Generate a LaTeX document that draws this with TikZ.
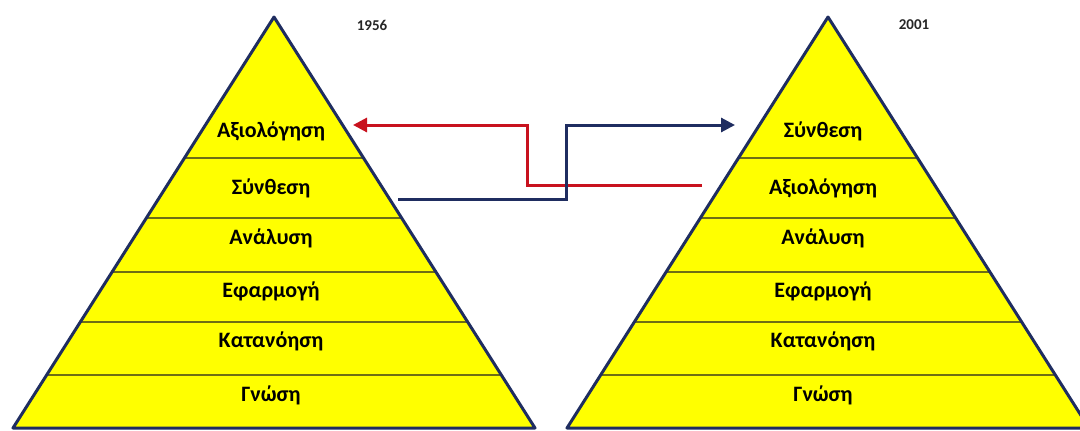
\documentclass[tikz,border=0pt]{standalone}
\usepackage{fontspec}
\setmainfont{Carlito}
\usetikzlibrary{positioning,calc,arrows.meta}
\definecolor{pyryellow}{RGB}{255,255,0}
\definecolor{pyrblue}{RGB}{31,45,96}
\definecolor{arrred}{RGB}{200,18,30}
\definecolor{bandcol}{RGB}{110,110,20}
\newcommand{\myfont}{\fontsize{11}{13}\selectfont\bfseries}
\newcommand{\yearfont}{\fontsize{7.5}{8}\selectfont\bfseries}
\newcommand{\bandA}{0.343}
\newcommand{\bandB}{0.489}
\newcommand{\bandC}{0.620}
\newcommand{\bandD}{0.742}
\newcommand{\bandE}{0.871}

\begin{document}
\begin{tikzpicture}[x=0.5pt, y=0.5pt,
  pyramid/.style={draw=pyrblue, line width=1.5pt, line join=round},
  band/.style={draw=bandcol, line width=0.8pt},
  level/.style={anchor=base, inner sep=0pt, font=\myfont},
  year/.style={inner sep=0pt, font=\yearfont, text=black!85},
  tiparrow/.style={line width=1.5pt, -{Triangle[length=7pt,width=7pt]}}]

  \useasboundingbox (0,0) rectangle (1080,430);
  \clip (0,0) rectangle (1080,430);

  %%%%%%%%%%%%%%%%%%%%%%%%%%%%%%%%%%%%%%%%%%%%%%%%%%%%%%%%%%%%%%%%%%%%%%%%%%%%%%%%
  %%%%%%%%%%% pyramid of 1956
  %%%%%%%%%%%%%%%%%%%%%%%%%%%%%%%%%%%%%%%%%%%%%%%%%%%%%%%%%%%%%%%%%%%%%%%%%%%%%%%%

  \coordinate (topL) at (274,413);
  \coordinate (baseLa) at (13,2);
  \coordinate (baseLb) at (535,2);

  % yellow body
  \fill [pyryellow] (topL) -- (baseLa) -- (baseLb) -- cycle;

  % band lines
  \foreach \f in {\bandA,\bandB,\bandC,\bandD,\bandE}
    \draw [band] ($(topL)!\f!(baseLa)$) -- ($(topL)!\f!(baseLb)$);

  % outline
  \draw [pyramid] (topL) -- (baseLa) -- (baseLb) -- cycle;

  % levels
  \node [level] (evalL) at (271,293) {Αξιολόγηση};
  \node [level] (synL) at (271,236) {Σύνθεση};
  \node [level] (anaL) at (271,186) {Ανάλυση};
  \node [level] (appL) at (271,133) {Εφαρμογή};
  \node [level] (compL) at (271,83) {Κατανόηση};
  \node [level] (knowL) at (271,29) {Γνώση};

  % year
  \node [year] (yearL) at (372,405) {1956};

  %%%%%%%%%%%%%%%%%%%%%%%%%%%%%%%%%%%%%%%%%%%%%%%%%%%%%%%%%%%%%%%%%%%%%%%%%%%%%%%%
  %%%%%%%%%%% pyramid of 2001
  %%%%%%%%%%%%%%%%%%%%%%%%%%%%%%%%%%%%%%%%%%%%%%%%%%%%%%%%%%%%%%%%%%%%%%%%%%%%%%%%

  \coordinate (topR) at (828,413);
  \coordinate (baseRa) at (567,2);
  \coordinate (baseRb) at (1089,2);

  % yellow body
  \fill [pyryellow] (topR) -- (baseRa) -- (baseRb) -- cycle;

  % band lines
  \foreach \f in {\bandA,\bandB,\bandC,\bandD,\bandE}
    \draw [band] ($(topR)!\f!(baseRa)$) -- ($(topR)!\f!(baseRb)$);

  % outline
  \draw [pyramid] (topR) -- (baseRa) -- (baseRb) -- cycle;

  % levels
  \node [level] (synR) at (823,293) {Σύνθεση};
  \node [level] (evalR) at (823,236) {Αξιολόγηση};
  \node [level] (anaR) at (823,186) {Ανάλυση};
  \node [level] (appR) at (823,133) {Εφαρμογή};
  \node [level] (compR) at (823,83) {Κατανόηση};
  \node [level] (knowR) at (823,29) {Γνώση};

  % year
  \node [year] (yearR) at (914,405) {2001};

  %%%%%%%%%%%%%%%%%%%%%%%%%%%%%%%%%%%%%%%%%%%%%%%%%%%%%%%%%%%%%%%%%%%%%%%%%%%%%%%%
  %%%%%%%%%%% swapped levels
  %%%%%%%%%%%%%%%%%%%%%%%%%%%%%%%%%%%%%%%%%%%%%%%%%%%%%%%%%%%%%%%%%%%%%%%%%%%%%%%%

  % ends of the arrows beside the pyramids
  \coordinate (redfrom) at (702,245);
  \coordinate (redto) at (353,305);
  \coordinate (bluefrom) at (398,231);
  \coordinate (blueto) at (735,305);

  % evaluation moves up
  \draw [tiparrow, draw=arrred]
  (redfrom) -| ($(redfrom)!0.5!(redto)$) |- (redto);

  % synthesis moves down
  \draw [tiparrow, draw=pyrblue]
  (bluefrom) -| ($(bluefrom)!0.5!(blueto)$) |- (blueto);

\end{tikzpicture}
\end{document}
